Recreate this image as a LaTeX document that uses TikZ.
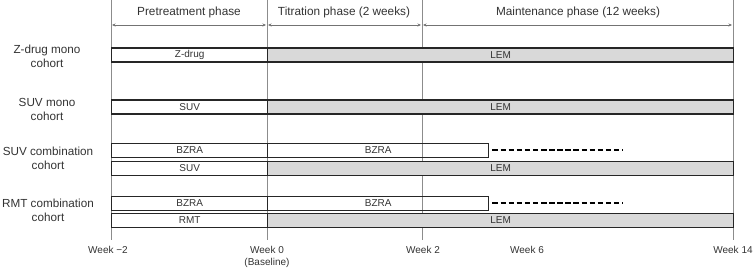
\documentclass[tikz,border=0pt]{standalone}
\usepackage{fontspec}
\setmainfont{Liberation Sans}
\usetikzlibrary{arrows.meta}

\definecolor{barfill}{HTML}{D9D9D9}
\definecolor{txtgray}{HTML}{333333}

\begin{document}
\begin{tikzpicture}[x=1pt,y=-1pt,
    gridline/.style={draw=black!45, line width=0.9pt},
    span/.style={draw=black!55, line width=0.8pt, {Stealth[length=3.5pt,width=3pt]}-{Stealth[length=3.5pt,width=3pt]}},
    phase/.style={font=\fontsize{11.8}{14}\selectfont, text=txtgray, inner sep=0pt},
    cohort/.style={font=\fontsize{11.7}{14}\selectfont, text=txtgray, align=center, inner sep=0pt},
    week/.style={font=\fontsize{10}{12}\selectfont, text=txtgray, align=center, anchor=north, inner sep=0pt},
    drugbar/.style={draw=black!85, line width=1.4pt, minimum height=14pt, inner sep=0pt, anchor=west, font=\fontsize{10}{12}\selectfont, text=txtgray},
    lembar/.style={drugbar, fill=barfill},
    dashline/.style={draw=black, line width=2pt, dash pattern=on 5.5pt off 2.6pt}]
      \useasboundingbox (0,0) rectangle (755,272);
      \foreach \n/\x in {wm2/111,w0/267,w2/422,w14/733}{
        \coordinate (top\n) at (\x,0);
        \coordinate (bot\n) at (\x,240);
        \draw[gridline] (top\n) -- (bot\n);
      }
      \draw[span] (112,25) -- (266,25);
      \draw[span] (268,25) -- (421,25);
      \draw[span] (423,25) -- (732,25);
      \node[phase] (pre) at (189,12) {Pretreatment phase};
      \node[phase] (tit) at (344,12) {Titration phase (2 weeks)};
      \node[phase] (mnt) at (578,12) {Maintenance phase (12 weeks)};
      \node[cohort] (zcoh) at (47,56) {Z-drug mono\\cohort};
      \node[cohort] (scoh) at (47,109) {SUV mono\\cohort};
      \node[cohort] (sccoh) at (48,158) {SUV combination\\cohort};
      \node[cohort] (rccoh) at (48,210) {RMT combination\\cohort};
      \node[drugbar, minimum width=156pt] (zdrug) at (111,55) {Z-drug};
      \node[lembar, minimum width=466pt] (zlem) at (267,55) {LEM};
      \node[drugbar, minimum width=156pt] (suv) at (111,107) {SUV};
      \node[lembar, minimum width=466pt] (slem) at (267,107) {LEM};
      \node[drugbar, minimum width=156pt] (sbzra) at (111,150.5) {BZRA};
      \node[drugbar, minimum width=221pt] (sbzrat) at (267,150.5) {BZRA};
      \node[drugbar, minimum width=156pt] (scsuv) at (111,168.5) {SUV};
      \node[lembar, minimum width=466pt] (sclem) at (267,168.5) {LEM};
      \node[drugbar, minimum width=156pt] (rbzra) at (111,203.5) {BZRA};
      \node[drugbar, minimum width=221pt] (rbzrat) at (267,203.5) {BZRA};
      \node[drugbar, minimum width=156pt] (rmt) at (111,220.5) {RMT};
      \node[lembar, minimum width=466pt] (rclem) at (267,220.5) {LEM};
      \draw[dashline] ([xshift=3pt]sbzrat.east) -- ([xshift=133pt]sbzrat.east);
      \draw[dashline] ([xshift=3pt]rbzrat.east) -- ([xshift=133pt]rbzrat.east);
      \node[week] (lwm2) at (108,246) {Week −2};
      \node[week] (lw0) at (267,246) {Week 0\\(Baseline)};
      \node[week] (lw2) at (423,246) {Week 2};
      \node[week] (lw6) at (527,246) {Week 6};
      \node[week] (lw14) at (733,246) {Week 14};
    \end{tikzpicture}
\end{document}
